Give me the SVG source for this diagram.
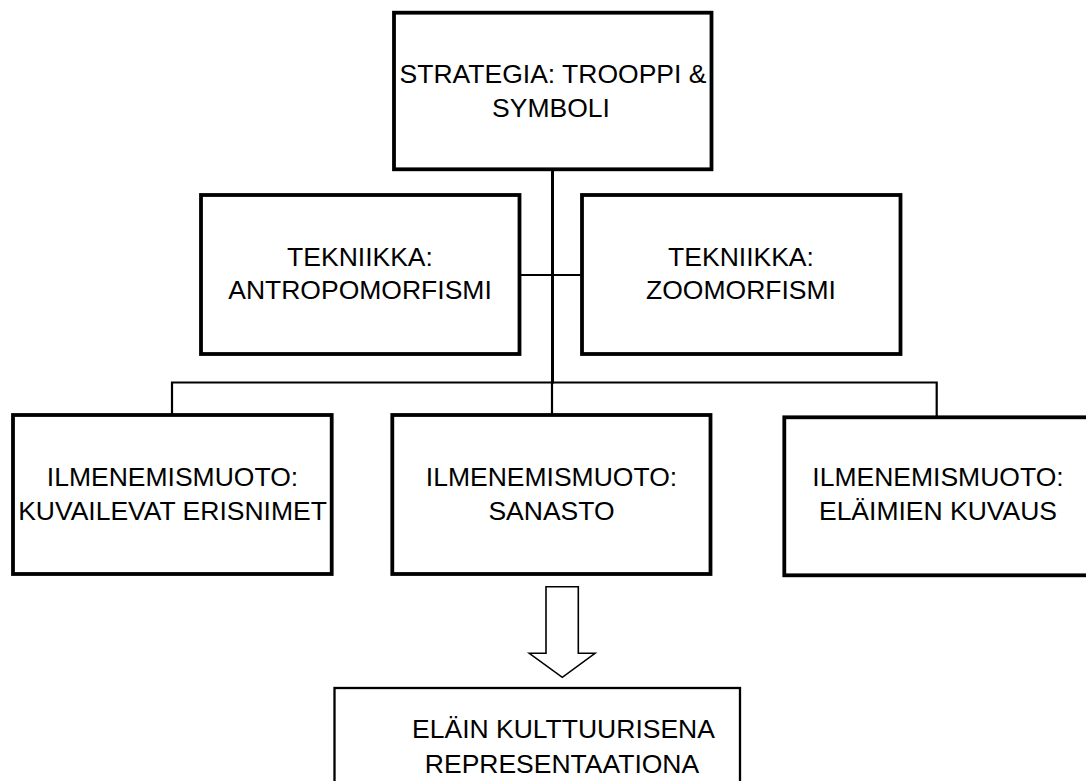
<svg xmlns="http://www.w3.org/2000/svg" width="1086" height="781" viewBox="0 0 1086 781">
<style>
.box{fill:#fff;stroke:#000;stroke-width:3.8}
.thin{fill:#fff;stroke:#000;stroke-width:2.3}
.ln{fill:none;stroke:#000;stroke-width:2.2}
.t{font-family:"Liberation Sans",Arial,sans-serif;font-size:26.5px;fill:#000;text-anchor:middle}
</style>
<rect width="1086" height="781" fill="#fff"/>
<g id="connectors">
<line class="ln" x1="552.5" y1="170" x2="552.5" y2="383.5" style="stroke-width:3"/>
<line class="ln" x1="519.5" y1="275" x2="582" y2="275"/>
<path class="ln" d="M172,415 V382.5 H936.7 V417"/>
<line class="ln" x1="552" y1="382.5" x2="552" y2="415"/>
<polygon points="546,586.7 578.3,586.7 578.3,653.3 595,653.3 562.3,677.3 529.3,653.3 546,653.3" fill="#fff" stroke="#000" stroke-width="1.6"/>
</g>
<g id="strategia">
<rect class="box" x="394" y="12.7" width="317.5" height="156.6"/>
<text class="t" x="553" y="83.3">STRATEGIA: TROOPPI &amp;</text>
<text class="t" x="551" y="116.7">SYMBOLI</text>
</g>
<g id="antropomorfismi">
<rect class="box" x="201" y="195" width="318.5" height="159"/>
<text class="t" x="360" y="266">TEKNIIKKA:</text>
<text class="t" x="360" y="299.3">ANTROPOMORFISMI</text>
</g>
<g id="zoomorfismi">
<rect class="box" x="582" y="195" width="318.5" height="159"/>
<text class="t" x="741" y="266">TEKNIIKKA:</text>
<text class="t" x="741" y="299.3">ZOOMORFISMI</text>
</g>
<g id="erisnimet">
<rect class="box" x="13" y="415" width="318.7" height="159"/>
<text class="t" x="172.5" y="486">ILMENEMISMUOTO:</text>
<text class="t" x="172.5" y="520">KUVAILEVAT ERISNIMET</text>
</g>
<g id="sanasto">
<rect class="box" x="392.3" y="415" width="318.2" height="159"/>
<text class="t" x="551.5" y="486">ILMENEMISMUOTO:</text>
<text class="t" x="551.5" y="520">SANASTO</text>
</g>
<g id="elaimien-kuvaus">
<rect class="box" x="784.3" y="417.3" width="318" height="158"/>
<text class="t" x="938" y="486">ILMENEMISMUOTO:</text>
<text class="t" x="938" y="520">ELÄIMIEN KUVAUS</text>
</g>
<g id="representaatio">
<rect class="thin" x="334.5" y="688" width="405.5" height="110"/>
<text class="t" x="563.5" y="738">ELÄIN KULTTUURISENA</text>
<text class="t" x="562" y="773">REPRESENTAATIONA</text>
</g>
</svg>
